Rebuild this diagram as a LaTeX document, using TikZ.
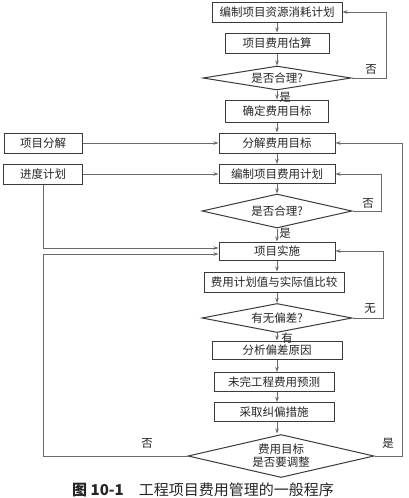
\documentclass[tikz,border=0pt]{standalone}
\usepackage{fontspec}
\newfontfamily\cjk{Noto Sans CJK SC}
\usetikzlibrary{shapes.geometric,arrows.meta}
\definecolor{ln}{HTML}{6A6A6A}
\definecolor{bd}{HTML}{3A3A3A}
\definecolor{tx}{HTML}{262626}
\begin{document}
\begin{tikzpicture}[x=1pt,y=-1pt,
  box/.style={draw=bd,line width=1pt,rectangle,inner sep=0pt,text=tx,
    font=\cjk\fontsize{11.5}{13}\selectfont},
  dia/.style={draw=bd,line width=1pt,diamond,inner sep=0pt,text=tx,align=center,
    font=\cjk\fontsize{11.5}{13}\selectfont},
  arr/.style={draw=ln,line width=0.9pt,-{Stealth[length=5pt,width=3.5pt]}},
  lbl/.style={inner sep=0pt,text=tx,font=\cjk\fontsize{11.5}{13}\selectfont}]
\useasboundingbox (0,0) rectangle (409,498);
\fill[white] (0,0) rectangle (409,498);
% main column
\node[box,minimum width=130pt,minimum height=20pt] (b1) at (277,12) {编制项目资源消耗计划};
\node[box,minimum width=104pt,minimum height=20pt] (b2) at (277,43) {项目费用估算};
\node[dia,aspect=6,minimum width=148pt,minimum height=24pt] (d1) at (277,78) {是否合理?};
\node[box,minimum width=103pt,minimum height=22pt] (b3) at (277,111) {确定费用目标};
\node[box,minimum width=116pt,minimum height=20pt] (b4) at (277,143) {分解费用目标};
\node[box,minimum width=116pt,minimum height=19pt] (b5) at (277,174) {编制项目费用计划};
\node[dia,aspect=4.4,minimum width=150pt,minimum height=34pt] (d2) at (277,211) {是否合理?};
\node[box,minimum width=116pt,minimum height=18pt] (b6) at (277,251) {项目实施};
\node[box,minimum width=140pt,minimum height=20pt] (b7) at (274,282) {费用计划值与实际值比较};
\node[dia,aspect=5,minimum width=150pt,minimum height=29pt] (d3) at (277,318) {有无偏差?};
\node[box,minimum width=130pt,minimum height=18pt] (b8) at (277,350) {分析偏差原因};
\node[box,minimum width=120pt,minimum height=19pt] (b9) at (274,382) {未完工程费用预测};
\node[box,minimum width=120pt,minimum height=19pt] (b10) at (274,412) {采取纠偏措施};
\node[dia,aspect=4.3,minimum width=186pt,minimum height=43pt] (d4) at (281,456) {费用目标\\是否要调整};
% left boxes
\node[box,minimum width=78pt,minimum height=20pt] (p1) at (43,143) {项目分解};
\node[box,minimum width=79pt,minimum height=20pt] (p2) at (43,174) {进度计划};
% caption
\node[inner sep=0pt,text=tx,font=\cjk\fontsize{15}{17}\selectfont] (cap) at (203,490)
  {{\bfseries 图 10-1}\hspace{1em}工程项目费用管理的一般程序};
% vertical arrows
\draw[arr] (b1.south -| 277,0) -- (b2.north -| 277,0);
\draw[arr] (b2.south -| 277,0) -- (d1.north);
\draw[arr] (d1.south) -- (b3.north -| 277,0);
\draw[arr] (b3.south -| 277,0) -- (b4.north -| 277,0);
\draw[arr] (b4.south -| 277,0) -- (b5.north -| 277,0);
\draw[arr] (b5.south -| 277,0) -- (d2.north);
\draw[arr] (d2.south) -- (b6.north -| 277,0);
\draw[arr] (b6.south -| 277,0) -- (b7.north -| 277,0);
\draw[arr] (b7.south -| 277,0) -- (d3.north);
\draw[arr] (d3.south) -- (b8.north -| 277,0);
\draw[arr] (b8.south -| 277,0) -- (b9.north -| 277,0);
\draw[arr] (b9.south -| 277,0) -- (b10.north -| 277,0);
\draw[arr] (b10.south -| 277,0) -- (277,433.5);
% side inputs
\draw[arr] (p1.east) -- (b4.west);
\draw[arr] (p2.east) -- (b5.west);
\draw[arr] (p2.south) |- ([yshift=3pt]b6.west);
% feedback loops
\draw[arr] (d1.east) -- ++(35,0) |- (b1.east);
\draw[arr] (d2.east) -- ++(29,0) |- (b5.east);
\draw[arr] (d3.east) -- ++(31,0) |- (b6.east);
\draw[arr] (d4.east) -- ++(28,0) |- (b4.east);
\coordinate (lf) at (43,456);
\draw[arr] (d4.west) -- (lf) |- ([yshift=-3pt]b6.west);
% labels
\node[lbl] (l1) at (285,97) {是};
\node[lbl] (l2) at (285,233) {是};
\node[lbl] (l3) at (287,338) {有};
\node[lbl] (l4) at (371,69) {否};
\node[lbl] (l5) at (368,203) {否};
\node[lbl] (l6) at (370,309) {无};
\node[lbl] (l7) at (147,443) {否};
\node[lbl] (l8) at (388,443) {是};
\end{tikzpicture}
\end{document}
